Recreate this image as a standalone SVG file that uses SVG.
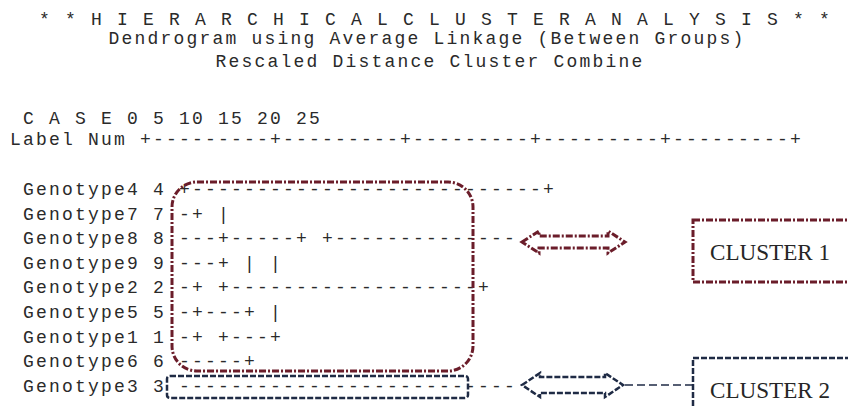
<svg xmlns="http://www.w3.org/2000/svg" width="848" height="407" viewBox="0 0 848 407" xml:space="preserve">
<style>
.m{font-family:"Liberation Mono","DejaVu Sans Mono",monospace;font-size:18px;letter-spacing:2.2px;fill:#2a2a2a}
.s{font-family:"Liberation Serif","Times New Roman",serif;font-size:23px;fill:#262626}
.mar{fill:none;stroke:#6b1d2a;stroke-width:3;stroke-dasharray:7 2 2 2}
.nav{fill:none;stroke:#1f2b45;stroke-width:2.5;stroke-dasharray:6 2}
.con{fill:none;stroke:#1f2b45;stroke-width:1.5;stroke-dasharray:8 4}
</style>
<rect width="848" height="407" fill="#ffffff"/>
<g id="header">
<text class="m" x="39" y="25">* * H I E R A R C H I C A L C L U S T E R A N A L Y S I S * *</text>
<text class="m" x="108.5" y="44">Dendrogram using Average Linkage (Between Groups)</text>
<text class="m" x="215.5" y="67">Rescaled Distance Cluster Combine</text>
<text class="m" x="23" y="124">C A S E 0 5 10 15 20 25</text>
<text class="m" x="10" y="145">Label Num +---------+---------+---------+---------+---------+</text>
</g>
<g id="rows">
<text class="m" x="23" y="195">Genotype4 4</text><text class="m" x="179" y="195"> +---------------------------+</text>
<text class="m" x="23" y="220">Genotype7 7</text><text class="m" x="179" y="220">-+ |</text>
<text class="m" x="23" y="244">Genotype8 8</text><text class="m" x="179" y="244">---+-----+ +--------------</text>
<text class="m" x="23" y="269">Genotype9 9</text><text class="m" x="179" y="269">---+ | |</text>
<text class="m" x="23" y="293">Genotype2 2</text><text class="m" x="179" y="293">-+ +-------------------+</text>
<text class="m" x="23" y="318">Genotype5 5</text><text class="m" x="179" y="318">-+---+ |</text>
<text class="m" x="23" y="343">Genotype1 1</text><text class="m" x="179" y="343">-+ +---+</text>
<text class="m" x="23" y="367">Genotype6 6</text><text class="m" x="179" y="367">-----+</text>
<text class="m" x="23" y="392">Genotype3 3</text><text class="m" x="179" y="392">--------------------------</text>
</g>
<g id="group1">
<rect class="mar" x="172" y="182" width="301" height="189" rx="25"/>
</g>
<g id="group2">
<rect class="nav" x="167" y="376" width="301" height="22" rx="3"/>
</g>
<g id="cluster1">
<rect class="mar" x="693" y="220" width="200" height="62"/>
<text class="s" x="710" y="260" textLength="120" lengthAdjust="spacingAndGlyphs">CLUSTER 1</text>
</g>
<g id="cluster2">
<rect class="nav" x="693" y="358" width="200" height="100"/>
<text class="s" x="710" y="398" textLength="120" lengthAdjust="spacingAndGlyphs">CLUSTER 2</text>
</g>
<g id="connectors">
<polygon class="mar" stroke-width="2.5" points="522,242 539,231 539,236 608,236 608,231 625,242 608,253 608,248 539,248 539,253"/>
<polygon class="nav" points="522,385 540,373 540,377 605,377 605,373 623,385 605,397 605,393 540,393 540,397"/>
<line class="con" x1="625" y1="385" x2="693" y2="385"/>
</g>
</svg>
